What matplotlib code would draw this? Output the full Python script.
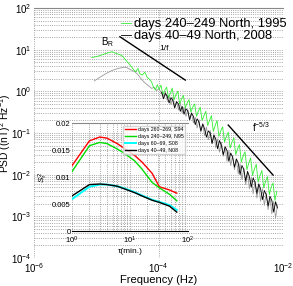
import matplotlib
matplotlib.use("Agg")
import matplotlib.pyplot as plt
from matplotlib.ticker import LogLocator, FixedLocator, FormatStrFormatter, NullFormatter
import numpy as np

plt.rcParams['font.family'] = ['Liberation Sans', 'DejaVu Sans']
plt.rcParams['mathtext.fontset'] = 'custom'
plt.rcParams['mathtext.rm'] = 'Liberation Sans'
plt.rcParams['mathtext.it'] = 'Liberation Sans:italic'

# main spectra, log10 values
gray_logf = [-5.03, -4.95, -4.85, -4.75, -4.65, -4.55, -4.51, -4.45, -4.38, -4.33,
             -4.28, -4.23, -4.19, -4.15, -4.11, -4.07, -4.03, -3.99, -3.95, -3.92,
             -3.89, -3.86, -3.83, -3.80, -3.77, -3.74, -3.71, -3.68, -3.65, -3.62,
             -3.59, -3.56, -3.53, -3.50, -3.47, -3.44, -3.41, -3.38, -3.35, -3.32,
             -3.29, -3.26, -3.23, -3.20, -3.17, -3.14, -3.11, -3.08, -3.05, -3.02,
             -2.99, -2.96, -2.93, -2.90, -2.87, -2.84, -2.81, -2.78, -2.75, -2.72,
             -2.69, -2.66, -2.63, -2.60, -2.57, -2.54, -2.51, -2.48, -2.45, -2.42,
             -2.39, -2.36, -2.33, -2.30, -2.27, -2.24, -2.21, -2.18, -2.15, -2.12, -2.09]
gray_logp = [0.25, 0.33, 0.42, 0.50, 0.55, 0.58, 0.57, 0.52, 0.47, 0.40,
             0.30, 0.22, 0.17, 0.12, 0.07, 0.10, 0.02, 0.06, -0.05, -0.12,
             0.00, -0.22, -0.10, -0.32, -0.14, -0.36, -0.24, -0.45, -0.28, -0.52,
             -0.38, -0.60, -0.44, -0.70, -0.52, -0.76, -0.62, -0.88, -0.68, -0.98,
             -0.80, -1.06, -0.86, -1.16, -0.94, -1.26, -1.04, -1.36, -1.14, -1.46,
             -1.22, -1.56, -1.34, -1.68, -1.42, -1.78, -1.54, -1.88, -1.64, -1.98,
             -1.74, -2.12, -1.84, -2.24, -1.96, -2.34, -2.06, -2.46, -2.16, -2.56,
             -2.24, -2.64, -2.34, -2.74, -2.44, -2.84, -2.54, -2.94, -2.64, -3.04, -2.74]

green_logf = [-5.07, -4.98, -4.90, -4.82, -4.75, -4.68, -4.59, -4.52, -4.45, -4.40,
              -4.37, -4.33, -4.30, -4.26, -4.22, -4.18, -4.15, -4.11, -4.08, -4.05,
              -4.02, -3.99, -3.96, -3.93, -3.90, -3.87, -3.84, -3.81, -3.78, -3.75,
              -3.72, -3.69, -3.66, -3.63, -3.60, -3.57, -3.54, -3.51, -3.48, -3.45,
              -3.42, -3.39, -3.36, -3.33, -3.30, -3.27, -3.24, -3.21, -3.18, -3.15,
              -3.12, -3.09, -3.06, -3.03, -3.00, -2.97, -2.94, -2.91, -2.88, -2.85,
              -2.82, -2.79, -2.76, -2.73, -2.70, -2.67, -2.64, -2.61, -2.58, -2.55,
              -2.52, -2.49, -2.46, -2.43, -2.40, -2.37, -2.34, -2.31, -2.28, -2.25,
              -2.22, -2.19, -2.16, -2.13, -2.10]
green_logp = [0.81, 0.84, 0.88, 0.92, 0.95, 0.91, 0.86, 0.74, 0.62, 0.52,
              0.47, 0.55, 0.42, 0.39, 0.46, 0.33, 0.30, 0.22, 0.10, 0.03,
              0.16, 0.05, 0.15, -0.08, 0.02, 0.10, -0.15, -0.05, 0.08, -0.20,
              -0.08, 0.00, -0.30, -0.18, -0.10, -0.40, -0.28, -0.20, -0.50, -0.38,
              -0.30, -0.60, -0.48, -0.38, -0.70, -0.58, -0.48, -0.82, -0.70, -0.58,
              -0.96, -0.82, -0.70, -1.08, -0.95, -0.85, -1.22, -1.08, -0.98, -1.36,
              -1.22, -1.12, -1.52, -1.38, -1.28, -1.70, -1.55, -1.45, -1.88, -1.72,
              -1.60, -2.02, -1.86, -1.75, -2.18, -2.02, -1.90, -2.32, -2.16, -2.05,
              -2.48, -2.30, -2.20, -2.62, -2.40]

black_logf = [-3.95, -3.92, -3.89, -3.86, -3.83, -3.80, -3.77, -3.74, -3.71, -3.68,
              -3.65, -3.62, -3.59, -3.56, -3.53, -3.50, -3.47, -3.44, -3.41, -3.38,
              -3.35, -3.32, -3.29, -3.26, -3.23, -3.20, -3.17, -3.14, -3.11, -3.08,
              -3.05, -3.02, -2.99, -2.96, -2.93, -2.90, -2.87, -2.84, -2.81, -2.78,
              -2.75, -2.72, -2.69, -2.66, -2.63, -2.60, -2.57, -2.54, -2.51, -2.48,
              -2.45, -2.42, -2.39, -2.36, -2.33, -2.30, -2.27, -2.24, -2.21, -2.18,
              -2.15, -2.12, -2.09]
black_logp = [-0.02, -0.18, -0.05, -0.12, -0.28, -0.15, -0.22, -0.40, -0.25, -0.30,
              -0.48, -0.36, -0.55, -0.42, -0.47, -0.68, -0.52, -0.60, -0.80, -0.66,
              -0.74, -0.95, -0.78, -0.90, -1.10, -0.95, -1.00, -1.25, -1.05, -1.15,
              -1.38, -1.18, -1.30, -1.52, -1.33, -1.42, -1.68, -1.48, -1.58, -1.82,
              -1.62, -1.72, -2.00, -1.78, -1.88, -2.15, -1.92, -2.05, -2.30, -2.08,
              -2.18, -2.45, -2.22, -2.35, -2.60, -2.38, -2.48, -2.75, -2.52, -2.62,
              -2.90, -2.65, -2.80]

# reference slopes
slope1_logf = [-4.62, -3.57]
slope1_logp = [1.31, 0.27]
slope53_logf = [-2.88, -2.16]
slope53_logp = [-0.81, -2.01]

# inset: structure function vs lag
tau = [1, 2, 3, 4, 6, 8, 12, 16, 24, 32, 48, 64]
s_red = [0.0121, 0.0167, 0.0174, 0.0172, 0.0162, 0.0153, 0.0140, 0.0128, 0.0107, 0.0082, 0.0076, 0.0070]
s_green = [0.0110, 0.0158, 0.0164, 0.0162, 0.0152, 0.0144, 0.0130, 0.0115, 0.0090, 0.0080, 0.0068, 0.0056]
s_cyan = [0.0059, 0.0082, 0.0086, 0.0086, 0.0083, 0.0079, 0.0072, 0.0066, 0.0058, 0.0054, 0.0048, 0.0039]
s_black = [0.0065, 0.0086, 0.0087, 0.0086, 0.0083, 0.0078, 0.0071, 0.0065, 0.0057, 0.0053, 0.0046, 0.0035]
inset_labels = ['days 260\u2013269, S94', 'days 240\u2013249, N95', 'days 60\u201369, S08', 'days 40\u201349, N08']

fig = plt.figure(figsize=(2.93, 2.86), dpi=100)
ax = fig.add_axes([0.116, 0.098, 0.85, 0.874])

ax.plot(10 ** np.array(gray_logf), 10 ** np.array(gray_logp), color='#999999', lw=0.6)
ax.plot(10 ** np.array(green_logf), 10 ** np.array(green_logp), color='#33ee33', lw=0.6,
        label='days 240\u2013249 North, 1995')
ax.plot(10 ** np.array(black_logf), 10 ** np.array(black_logp), color='black', lw=0.6,
        label='days 40\u201349 North, 2008')
ax.plot(10 ** np.array(slope1_logf), 10 ** np.array(slope1_logp), color='black', lw=1.0)
ax.plot(10 ** np.array(slope53_logf), 10 ** np.array(slope53_logp), color='black', lw=1.0)

ax.text(10 ** -4.93, 10 ** 1.1, r'B$_\mathrm{R}$', fontsize=7)
ax.text(10 ** -3.99, 10 ** 0.99, '1/f', fontsize=6)
ax.text(10 ** -2.5, 10 ** -0.98, r'f$^{-5/3}$', fontsize=7)

ax.set_xscale('log')
ax.set_yscale('log')
ax.set_xlim(1e-6, 1e-2)
ax.set_ylim(1e-4, 1e2)
ax.xaxis.set_major_locator(FixedLocator([1e-6, 1e-4, 1e-2]))
ax.xaxis.set_minor_locator(FixedLocator([]))
ax.yaxis.set_major_locator(LogLocator(base=10, numticks=10))
ax.yaxis.set_minor_locator(LogLocator(base=10, subs=np.arange(2, 10), numticks=20))
ax.yaxis.set_minor_formatter(NullFormatter())
ax.grid(True, which='major', axis='both', ls=':', color='#888888', lw=0.6)
ax.grid(True, which='minor', axis='y', ls=':', color='#888888', lw=0.6)
ax.tick_params(which='both', length=0, labelsize=7, pad=2)
for s in ['left', 'right', 'bottom']:
    ax.spines[s].set_visible(False)
ax.spines['top'].set_color('#888888')
ax.set_xlabel('Frequency (Hz)', fontsize=8)
ax.xaxis.set_label_coords(0.5, -0.067)
ax.set_ylabel(r'PSD ((nT)$^2$ Hz$^{-1}$)', fontsize=7.4)
ax.yaxis.set_label_coords(-0.086, 0.5)
ax.legend(loc='upper right', bbox_to_anchor=(1.045, 0.99), frameon=False, fontsize=9.3,
          handlelength=0.8, handletextpad=0.2, labelspacing=0.0, borderpad=0.1)

ins = fig.add_axes([0.2457, 0.1923, 0.396, 0.3776])
ins.patch.set_alpha(0)
ins.plot(tau, s_red, color='red', lw=1.0, label=inset_labels[0])
ins.plot(tau, s_green, color='#00dd00', lw=1.0, label=inset_labels[1])
ins.plot(tau, s_cyan, color='cyan', lw=1.4, label=inset_labels[2])
ins.plot(tau, s_black, color='black', lw=1.0, label=inset_labels[3])
ins.set_xscale('log')
ins.set_xlim(1, 100)
ins.set_ylim(0, 0.02)
ins.set_yticks([0, 0.005, 0.01, 0.015, 0.02])
ins.yaxis.set_major_formatter(FormatStrFormatter('%g'))
ins.xaxis.set_minor_formatter(NullFormatter())
ins.grid(True, which='both', axis='x', ls=':', color='#888888', lw=0.6)
ins.tick_params(which='both', length=0, labelsize=5.5, pad=1)
ins.tick_params(axis='x', pad=3)
ins.spines['left'].set_visible(False)
ins.spines['right'].set_visible(False)
ins.spines['top'].set_color('#888888')
ins.set_xlabel('\u03c4(min.)', fontsize=6, labelpad=1)
ins.set_ylabel(r'$S_\tau^2$', fontsize=6, labelpad=1)
ins.legend(loc='upper right', fontsize=3.8, frameon=True, fancybox=False, edgecolor='#cccccc',
           handlelength=2.2, handletextpad=0.3, labelspacing=0.35, borderpad=0.3,
           bbox_to_anchor=(1.0, 1.0))

fig.savefig('out.png', dpi=100)
